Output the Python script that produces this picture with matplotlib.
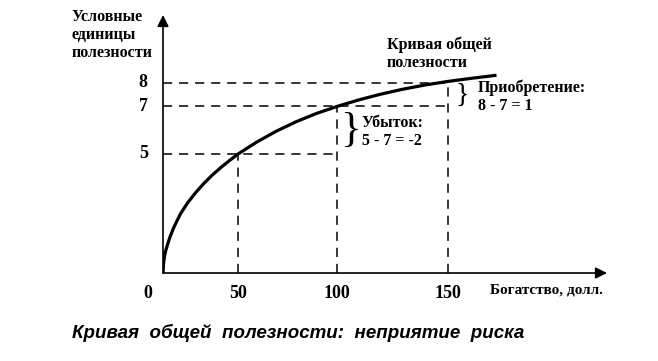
import matplotlib
matplotlib.use('Agg')
import matplotlib.pyplot as plt
import numpy as np

# data
wealth_ticks = [0, 50, 100, 150]
utility_ticks = [5, 7, 8]
curve_w = [0, 1, 2, 3, 5, 7, 10, 15, 20, 25, 30, 35, 40, 45, 50,
           60, 70, 80, 90, 100, 110, 120, 130, 140, 150, 160, 170]
curve_u = [0, 0.45, 0.7, 0.9, 1.2, 1.5, 1.9, 2.48, 2.95, 3.36, 3.74, 4.09, 4.41, 4.71, 5.0,
           5.5, 5.95, 6.35, 6.7, 7.0, 7.27, 7.51, 7.72, 7.9, 8.05, 8.18, 8.3]
# (wealth, utility) points on the curve that get dashed guide lines
w_loss, w_base, w_gain = 50, 100, 150
u_loss, u_base, u_gain = 5, 7, 8

W, H = 658, 361
fig = plt.figure(figsize=(W / 100, H / 100), dpi=100)
ax = fig.add_axes([163 / W, 1 - 273 / H, 444 / W, 258 / H])

# the drawing is not to scale on x: spacing grows like w**1.215
p = 1.215
ax.set_xscale('function', functions=(lambda x: np.sign(x) * np.abs(x) ** p,
                                     lambda x: np.sign(x) * np.abs(x) ** (1 / p)))
ax.set_xlim(0, 216)
ax.set_ylim(0, 10.84)

for s in ax.spines.values():
    s.set_visible(False)
ax.set_xticks([])
ax.set_yticks([])

# axes with arrows
arr = dict(arrowstyle='-|>', color='black', lw=1.2, mutation_scale=17, shrinkA=0, shrinkB=0)
ax.annotate('', xy=(0, 1), xytext=(0, 0), xycoords='axes fraction', arrowprops=arr)
ax.annotate('', xy=(1, 0), xytext=(0, 0), xycoords='axes fraction', arrowprops=arr)

# dashed guides
dash = dict(color='black', lw=1.1, dashes=(6, 4.5))
ax.plot([0, w_base], [u_loss, u_loss], **dash)
ax.plot([0, w_gain], [u_base, u_base], **dash)
ax.plot([0, w_gain], [u_gain, u_gain], **dash)
ax.plot([w_loss, w_loss], [0, u_loss], **dash)
ax.plot([w_base, w_base], [0, u_base], **dash)
ax.plot([w_gain, w_gain], [0, u_gain], **dash)

# utility curve
ax.plot(curve_w, curve_u, color='black', lw=2.3, solid_joinstyle='round')

serif = dict(family='Liberation Serif', weight='bold', color='black')

# tick labels
for w in wealth_ticks:
    ax.annotate(str(w), xy=(w, 0), xytext=(-11 if w == 0 else 0, -15), textcoords='offset points',
                ha='center', va='center', fontsize=13, **serif)
for u in utility_ticks:
    ax.annotate(str(u), xy=(0, u), xytext=(-11, 0), textcoords='offset points',
                ha='right', va='center', fontsize=13, **serif)

fig.text(72 / W, 1 - 35 / H, 'Условные\nединицы\nполезности', ha='left', va='center',
         fontsize=11.5, linespacing=1.15, **serif)
fig.text(603 / W, 1 - 290 / H, 'Богатство, долл.', ha='right', va='center', fontsize=11, **serif)
fig.text(387 / W, 1 - 54 / H, 'Кривая общей\nполезности', ha='left', va='center',
         fontsize=11.5, linespacing=1.15, **serif)
fig.text(478 / W, 1 - 97 / H, 'Приобретение:\n8 - 7 = 1', ha='left', va='center',
         fontsize=11.5, linespacing=1.15, **serif)
fig.text(362 / W, 1 - 132 / H, 'Убыток:\n5 - 7 = -2', ha='left', va='center',
         fontsize=11.5, linespacing=1.15, **serif)

# braces
fig.text(350 / W, 1 - 131 / H, '}', ha='center', va='center', fontsize=31,
         family='Liberation Serif', color='black')
fig.text(462 / W, 1 - 95 / H, '}', ha='center', va='center', fontsize=20,
         family='Liberation Serif', color='black')

# caption
fig.text(72 / W, 1 - 333 / H, 'Кривая  общей  полезности:  неприятие  риска', ha='left', va='center',
         fontsize=13.5, family='Liberation Sans', weight='bold', style='italic', color='black')

plt.savefig('out.png', dpi=100)
plt.close()
